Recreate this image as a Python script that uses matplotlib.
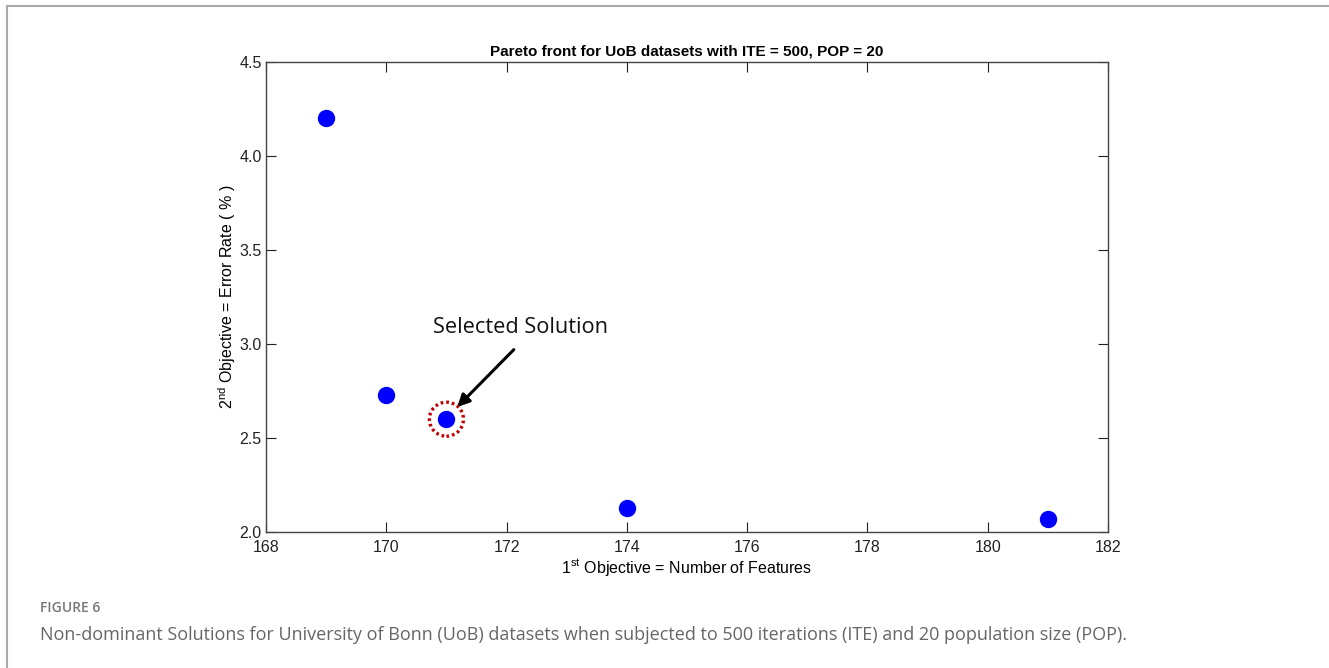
import matplotlib.pyplot as plt
import matplotlib.patches as patches
from matplotlib.lines import Line2D

# Pareto front points
features = [169, 170, 171, 174, 181]
error_rate = [4.20, 2.73, 2.60, 2.13, 2.07]
selected = (171, 2.60)
x_ticks = [168, 170, 172, 174, 176, 178, 180, 182]
y_ticks = [2.0, 2.5, 3.0, 3.5, 4.0, 4.5]

plt.rcParams['font.family'] = ['Liberation Sans', 'DejaVu Sans']

fig = plt.figure(figsize=(13.29, 6.68), dpi=100)
ax = fig.add_axes([266 / 1329, 1 - 532 / 668, (1108 - 266) / 1329, (532 - 62) / 668])

ax.plot(features, error_rate, 'o', color='#0000ff', markersize=11.5, zorder=3)

ax.set_xlim(168, 182)
ax.set_ylim(2.0, 4.5)
ax.set_xticks(x_ticks)
ax.set_yticks(y_ticks)
ax.set_yticklabels(['%.1f' % v for v in y_ticks])
ax.tick_params(direction='in', length=7, width=0.8, top=True, right=True,
               labelsize=11.5, colors='#222222', pad=3)
ax.tick_params(axis='x', pad=6)
for s in ax.spines.values():
    s.set_color('#444444')
    s.set_linewidth(1.0)

ax.set_title('Pareto front for UoB datasets with ITE = 500, POP = 20',
             fontsize=11, fontweight='bold', pad=5)
ax.set_xlabel('1$^{\\mathregular{st}}$ Objective = Number of Features', fontsize=11.5, labelpad=1)
ax.set_ylabel('2$^{\\mathregular{nd}}$ Objective = Error Rate ( % )', fontsize=11.5, labelpad=1)

# dotted circle around the selected solution
circ = patches.Ellipse(selected, width=34 / 60, height=34 / 188, fill=False,
                       edgecolor='#c00000', linestyle=(0, (0.8, 0.9)), linewidth=2.4, zorder=4)
ax.add_patch(circ)

ax.annotate('', xy=(171.18, 2.665), xytext=(172.12, 2.97),
            arrowprops=dict(arrowstyle='-|>', color='black', lw=2.2,
                            mutation_scale=18, shrinkA=0, shrinkB=0))
ax.text(172.23, 3.09, 'Selected Solution', fontsize=15.7, family='Open Sans',
        ha='center', va='center', color='#111111')

# page frame and caption
fig.add_artist(Line2D([7 / 1329, 7 / 1329], [0, 1 - 6 / 668], color='#aaaaaa', lw=1.5))
fig.add_artist(Line2D([7 / 1329, 1], [1 - 6 / 668, 1 - 6 / 668], color='#aaaaaa', lw=1.5))
fig.text(40 / 1329, 1 - 608 / 668, 'FIGURE 6', fontsize=10, family='Open Sans',
         color='#777777', va='center', fontweight='semibold')
fig.text(40 / 1329, 1 - 635 / 668,
         'Non-dominant Solutions for University of Bonn (UoB) datasets when subjected to 500 iterations (ITE) and 20 population size (POP).',
         fontsize=13.0, family='Open Sans', color='#666666', va='center')

fig.savefig('out.png', dpi=100)
